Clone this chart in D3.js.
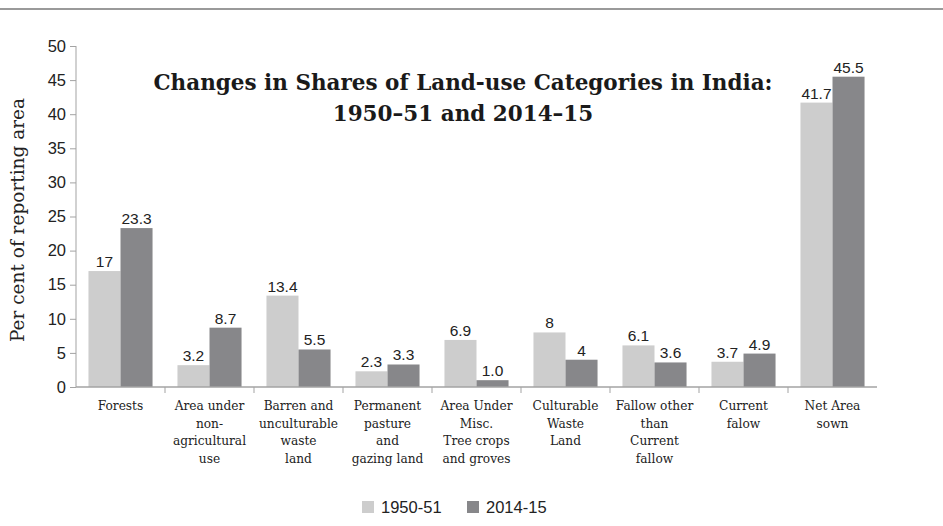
<!DOCTYPE html>
<html>
<head>
<meta charset="utf-8">
<script src="https://cdn.jsdelivr.net/npm/d3@7"></script>
<style>
  body { margin: 0; background: #fff; }
  svg { display: block; }
</style>
</head>
<body>
<div id="chart"></div>
<script>
// Land-use shares in India, 1950-51 vs 2014-15

const categories = [
  ["Forests"],
  ["Area under", "non-", "agricultural", "use"],
  ["Barren and", "unculturable", "waste", "land"],
  ["Permanent", "pasture", "and", "gazing land"],
  ["Area Under", "Misc.", "Tree crops", "and groves"],
  ["Culturable", "Waste", "Land"],
  ["Fallow other", "than", "Current", "fallow"],
  ["Current", "falow"],
  ["Net Area", "sown"]
];
const series = ["1950-51", "2014-15"];
const values1950 = [17, 3.2, 13.4, 2.3, 6.9, 8, 6.1, 3.7, 41.7];
const values2014 = [23.3, 8.7, 5.5, 3.3, 1.0, 4, 3.6, 4.9, 45.5];
const labels1950 = ["17", "3.2", "13.4", "2.3", "6.9", "8", "6.1", "3.7", "41.7"];
const labels2014 = ["23.3", "8.7", "5.5", "3.3", "1.0", "4", "3.6", "4.9", "45.5"];
const yTicks = [0, 5, 10, 15, 20, 25, 30, 35, 40, 45, 50];

const W = 943, H = 526;
const colors = { "1950-51": "#cdcdcd", "2014-15": "#87878a" };
const axisColor = "#a3a3a3";
const serif = "'DejaVu Serif', 'Liberation Serif', serif";
const sans = "'Liberation Sans', Arial, sans-serif";

const svg = d3.select("#chart").append("svg").attr("width", W).attr("height", H);

// top rule
svg.append("line").attr("x1", 0).attr("x2", W).attr("y1", 9).attr("y2", 9)
  .attr("stroke", "#9a9a9a").attr("stroke-width", 2);

const m = { left: 76, right: 66, top: 46, bottom: 139 };
const iw = W - m.left - m.right, ih = H - m.top - m.bottom;
const g = svg.append("g").attr("transform", `translate(${m.left},${m.top})`);

const x0 = d3.scaleBand().domain(d3.range(categories.length)).range([0, iw])
  .paddingInner(0.28).paddingOuter(0.14);
const x1 = d3.scaleBand().domain(series).range([0, x0.bandwidth()]);
const y = d3.scaleLinear().domain([0, 50]).range([ih, 0]);

// y axis
const yAxis = g.append("g").call(d3.axisLeft(y).tickValues(yTicks).tickSize(6).tickPadding(4));
yAxis.select(".domain").attr("stroke", axisColor).attr("d", `M0,${y(50)}V${y(0)}`);
yAxis.selectAll(".tick line").attr("stroke", axisColor);
yAxis.selectAll(".tick text").attr("font-family", sans).attr("font-size", 16.5).attr("fill", "#222");

// bars
const rows = categories.map((c, i) => ({ i, vals: [
  { s: "1950-51", v: values1950[i], lab: labels1950[i] },
  { s: "2014-15", v: values2014[i], lab: labels2014[i] }
] }));

const grp = g.selectAll(".grp").data(rows).join("g")
  .attr("transform", d => `translate(${x0(d.i)},0)`);
grp.selectAll("rect").data(d => d.vals).join("rect")
  .attr("x", d => x1(d.s)).attr("width", x1.bandwidth())
  .attr("y", d => y(d.v)).attr("height", d => y(0) - y(d.v))
  .attr("fill", d => colors[d.s]);
grp.selectAll("text").data(d => d.vals).join("text")
  .attr("x", d => x1(d.s) + x1.bandwidth() / 2).attr("y", d => y(d.v) - 4)
  .attr("text-anchor", "middle").attr("font-family", sans).attr("font-size", 15.5)
  .attr("fill", "#222").text(d => d.lab);

// x axis line + boundary ticks
g.append("line").attr("x1", 0).attr("x2", iw).attr("y1", ih).attr("y2", ih)
  .attr("stroke", axisColor).attr("stroke-width", 1.5);
const step = x0.step();
g.selectAll(".bt").data(d3.range(1, categories.length)).join("line")
  .attr("x1", d => x0(d) - step * 0.14).attr("x2", d => x0(d) - step * 0.14)
  .attr("y1", ih).attr("y2", ih + 6).attr("stroke", axisColor);

// category labels
g.selectAll(".cat").data(rows).join("text")
  .attr("font-family", serif).attr("font-size", 12.2).attr("fill", "#222")
  .attr("text-anchor", "middle")
  .each(function (d) {
    const t = d3.select(this);
    categories[d.i].forEach((line, k) => {
      t.append("tspan").attr("x", x0(d.i) + x0.bandwidth() / 2)
        .attr("y", ih + 23 + k * 17.7).text(line);
    });
  });

// y title
svg.append("text").attr("transform", "translate(24,220) rotate(-90)")
  .attr("text-anchor", "middle").attr("font-family", serif).attr("font-size", 18.5)
  .attr("fill", "#222").text("Per cent of reporting area");

// chart title
const title = svg.append("text").attr("text-anchor", "middle")
  .attr("font-family", serif).attr("font-weight", "bold").attr("font-size", 21.5).attr("fill", "#1a1a1a");
title.append("tspan").attr("x", 463).attr("y", 90).text("Changes in Shares of Land-use Categories in India:");
title.append("tspan").attr("x", 463).attr("y", 121).text("1950–51 and 2014–15");

// legend
const lg = svg.append("g");
const legendX = [362, 467];
series.forEach((s, i) => {
  lg.append("rect").attr("x", legendX[i]).attr("y", 501).attr("width", 12).attr("height", 12).attr("fill", colors[s]);
  lg.append("text").attr("x", legendX[i] + 19).attr("y", 513).attr("font-family", sans)
    .attr("font-size", 16.5).attr("fill", "#222").text(s);
});
</script>
</body>
</html>
